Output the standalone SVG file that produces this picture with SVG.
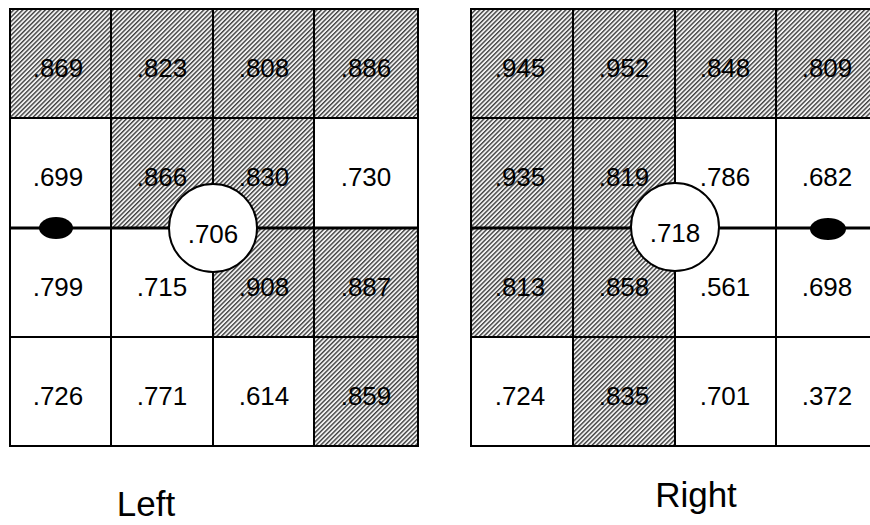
<svg xmlns="http://www.w3.org/2000/svg" width="870" height="525" viewBox="0 0 870 525">
  <defs>
    <!-- diagonal hatching for marked cells -->
    <pattern id="hatch" width="3.2" height="3.2" patternUnits="userSpaceOnUse" patternTransform="rotate(45)">
      <rect width="3.2" height="3.2" fill="#f2f2f2"/>
      <line x1="0.7" y1="0" x2="0.7" y2="3.2" stroke="#262626" stroke-width="1.2"/>
    </pattern>
  </defs>
  <style>
    .cell { stroke: #000; stroke-width: 2; }
    .hat { fill: url(#hatch); }
    .plain { fill: #fff; }
    .num { font-family: "Liberation Sans", Arial, sans-serif; font-size: 26px; text-anchor: middle; fill: #000; }
    .label { font-family: "Liberation Sans", Arial, sans-serif; font-size: 35px; text-anchor: middle; fill: #000; }
    .axis { stroke: #000; stroke-width: 3; }
    .hub { fill: #fff; stroke: #000; stroke-width: 2; }
  </style>
  <rect width="870" height="525" fill="#fff"/>

  <!-- Left grid -->
  <g id="left-grid">
    <g id="L-r0">
      <rect class="cell hat" x="10" y="9" width="101" height="109"/>
      <rect class="cell hat" x="111" y="9" width="102" height="109"/>
      <rect class="cell hat" x="213" y="9" width="101" height="109"/>
      <rect class="cell hat" x="314" y="9" width="104" height="109"/>
    </g>
    <g id="L-r1">
      <rect class="cell plain" x="10" y="118" width="101" height="110"/>
      <rect class="cell hat" x="111" y="118" width="102" height="110"/>
      <rect class="cell hat" x="213" y="118" width="101" height="110"/>
      <rect class="cell plain" x="314" y="118" width="104" height="110"/>
    </g>
    <g id="L-r2">
      <rect class="cell plain" x="10" y="228" width="101" height="109"/>
      <rect class="cell plain" x="111" y="228" width="102" height="109"/>
      <rect class="cell hat" x="213" y="228" width="101" height="109"/>
      <rect class="cell hat" x="314" y="228" width="104" height="109"/>
    </g>
    <g id="L-r3">
      <rect class="cell plain" x="10" y="337" width="101" height="109"/>
      <rect class="cell plain" x="111" y="337" width="102" height="109"/>
      <rect class="cell plain" x="213" y="337" width="101" height="109"/>
      <rect class="cell hat" x="314" y="337" width="104" height="109"/>
    </g>
    <g id="L-values">
      <text class="num" x="58" y="77">.869</text>
      <text class="num" x="162" y="77">.823</text>
      <text class="num" x="264" y="77">.808</text>
      <text class="num" x="366" y="77">.886</text>
      <text class="num" x="58" y="186">.699</text>
      <text class="num" x="162" y="186">.866</text>
      <text class="num" x="264" y="186">.830</text>
      <text class="num" x="366" y="186">.730</text>
      <text class="num" x="58" y="296">.799</text>
      <text class="num" x="162" y="296">.715</text>
      <text class="num" x="264" y="296">.908</text>
      <text class="num" x="366" y="296">.887</text>
      <text class="num" x="58" y="405">.726</text>
      <text class="num" x="162" y="405">.771</text>
      <text class="num" x="264" y="405">.614</text>
      <text class="num" x="366" y="405">.859</text>
    </g>
  </g>

  <!-- Right grid -->
  <g id="right-grid">
    <g id="R-r0">
      <rect class="cell hat" x="471" y="9" width="102" height="109"/>
      <rect class="cell hat" x="573" y="9" width="102" height="109"/>
      <rect class="cell hat" x="675" y="9" width="101" height="109"/>
      <rect class="cell hat" x="776" y="9" width="102" height="109"/>
    </g>
    <g id="R-r1">
      <rect class="cell hat" x="471" y="118" width="102" height="110"/>
      <rect class="cell hat" x="573" y="118" width="102" height="110"/>
      <rect class="cell plain" x="675" y="118" width="101" height="110"/>
      <rect class="cell plain" x="776" y="118" width="102" height="110"/>
    </g>
    <g id="R-r2">
      <rect class="cell hat" x="471" y="228" width="102" height="109"/>
      <rect class="cell hat" x="573" y="228" width="102" height="109"/>
      <rect class="cell plain" x="675" y="228" width="101" height="109"/>
      <rect class="cell plain" x="776" y="228" width="102" height="109"/>
    </g>
    <g id="R-r3">
      <rect class="cell plain" x="471" y="337" width="102" height="109"/>
      <rect class="cell hat" x="573" y="337" width="102" height="109"/>
      <rect class="cell plain" x="675" y="337" width="101" height="109"/>
      <rect class="cell plain" x="776" y="337" width="102" height="109"/>
    </g>
    <g id="R-values">
      <text class="num" x="520" y="77">.945</text>
      <text class="num" x="624" y="77">.952</text>
      <text class="num" x="725" y="77">.848</text>
      <text class="num" x="827" y="77">.809</text>
      <text class="num" x="520" y="186">.935</text>
      <text class="num" x="624" y="186">.819</text>
      <text class="num" x="725" y="186">.786</text>
      <text class="num" x="827" y="186">.682</text>
      <text class="num" x="520" y="296">.813</text>
      <text class="num" x="624" y="296">.858</text>
      <text class="num" x="725" y="296">.561</text>
      <text class="num" x="827" y="296">.698</text>
      <text class="num" x="520" y="405">.724</text>
      <text class="num" x="624" y="405">.835</text>
      <text class="num" x="725" y="405">.701</text>
      <text class="num" x="827" y="405">.372</text>
    </g>
  </g>

  <!-- central axis lines -->
  <g id="connectors">
    <line class="axis" x1="10" y1="228" x2="418" y2="228"/>
    <line class="axis" x1="471" y1="228" x2="870" y2="228"/>
  </g>

  <!-- hubs and end dots -->
  <g id="left-hub">
    <circle class="hub" cx="213" cy="228" r="44"/>
    <text class="num" x="213" y="243">.706</text>
  </g>
  <g id="left-dot">
    <ellipse cx="56" cy="228" rx="17" ry="11" fill="#000"/>
  </g>
  <g id="right-hub">
    <circle class="hub" cx="675" cy="227" r="44"/>
    <text class="num" x="675" y="242">.718</text>
  </g>
  <g id="right-dot">
    <ellipse cx="828" cy="229" rx="18" ry="11" fill="#000"/>
  </g>

  <g id="captions">
    <text class="label" x="146" y="516">Left</text>
    <text class="label" x="696" y="507">Right</text>
  </g>
</svg>
